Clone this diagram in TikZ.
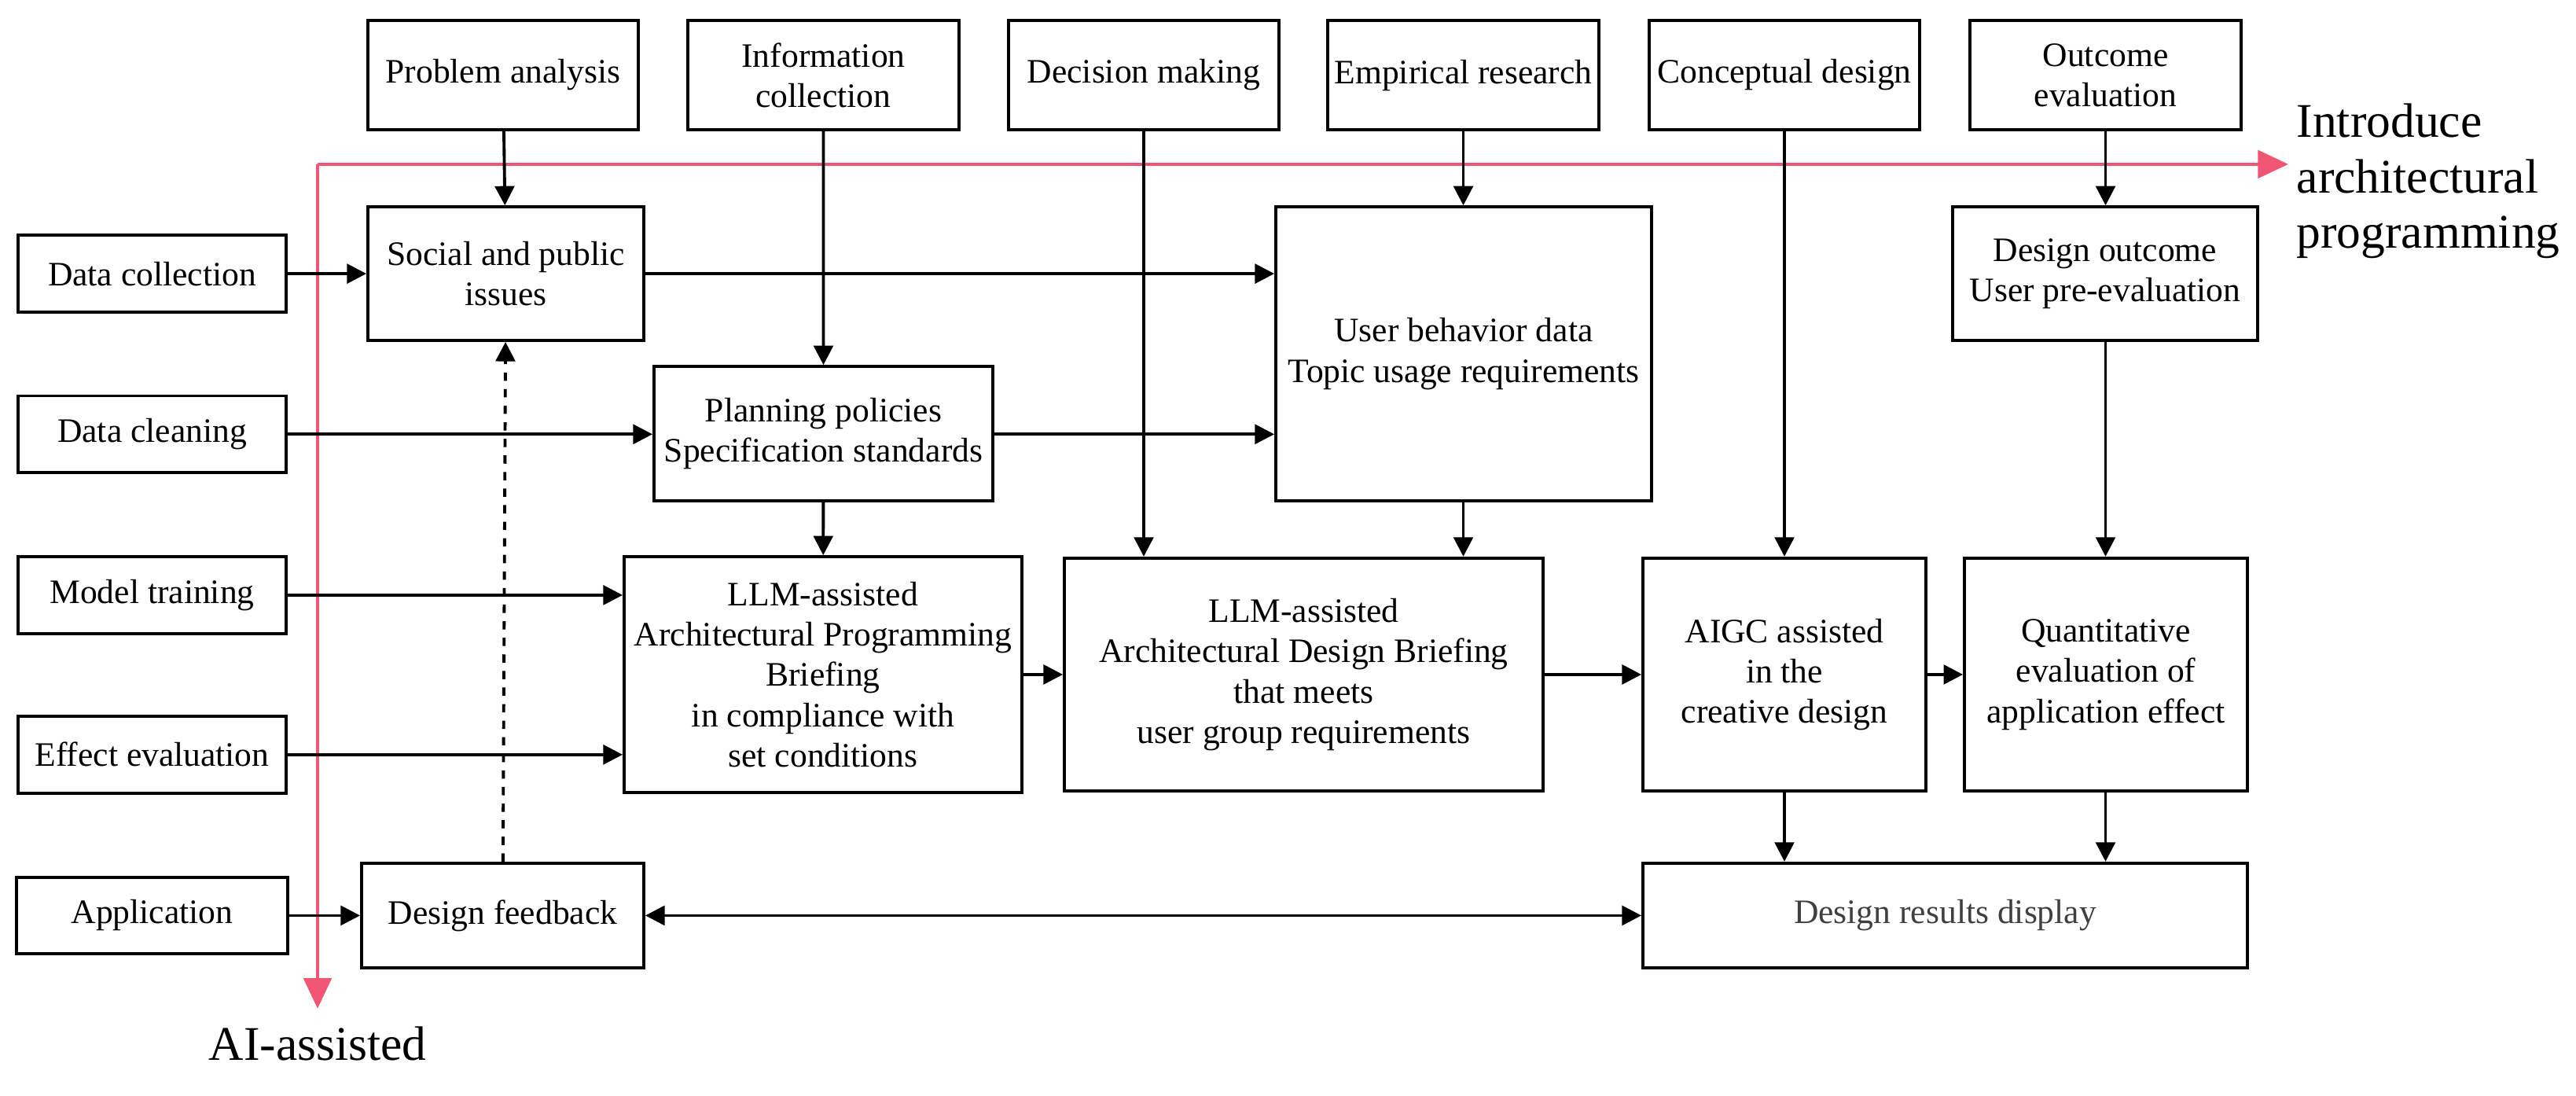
\documentclass[tikz,border=0pt]{standalone}
\usepackage{fontspec}
\setmainfont{Liberation Serif}
\usetikzlibrary{arrows.meta}
\definecolor{flowred}{RGB}{240,85,115}
\tikzset{
  box/.style={draw, line width=1.1pt, align=center, inner sep=2pt, font=\fontsize{12.4}{14.6}\selectfont},
  flow/.style={line width=1.1pt, -{Triangle[length=7pt,width=7pt]}},
  bigtxt/.style={font=\fontsize{17.5}{20}\selectfont, inner sep=0pt}
}
\newcommand{\yf}{0.849}
\newcommand{\bx}[6]{\node[box, minimum width=#3cm-#2cm, minimum height=\yf*(#5cm-#4cm)] (#1) at ({(#2+#3)/2},{-\yf*(#4+#5)/2}) {#6};}
\begin{document}
\begin{tikzpicture}
\useasboundingbox (0,0) rectangle (32.77,-13.93);
% top row
\bx{prob}{4.68}{8.12}{0.31}{1.94}{Problem analysis}
\bx{info}{8.75}{12.20}{0.31}{1.94}{Information\\collection}
\bx{deci}{12.83}{16.27}{0.31}{1.94}{Decision making}
\bx{empi}{16.89}{20.34}{0.31}{1.94}{Empirical research}
\bx{conc}{20.98}{24.42}{0.31}{1.94}{Conceptual design}
\bx{outc}{25.06}{28.51}{0.31}{1.94}{Outcome\\evaluation}
% left column
\bx{dcol}{0.23}{3.64}{3.52}{4.68}{Data collection}
\bx{dcln}{0.23}{3.64}{5.93}{7.08}{Data cleaning}
\bx{mtrn}{0.23}{3.64}{8.34}{9.49}{Model training}
\bx{efev}{0.23}{3.64}{10.73}{11.88}{Effect evaluation}
\bx{appl}{0.21}{3.66}{13.14}{14.29}{Application}
% middle
\bx{soc}{4.68}{8.19}{3.10}{5.10}{Social and public\\issues}
\bx{plan}{8.32}{12.63}{5.49}{7.50}{Planning policies\\Specification standards}
\bx{prog}{7.94}{13.00}{8.34}{11.87}{LLM-assisted\\Architectural Programming\\Briefing\\in compliance with\\set conditions}
\bx{feed}{4.60}{8.19}{12.93}{14.50}{Design feedback}
\bx{user}{16.23}{21.01}{3.10}{7.50}{User behavior data\\Topic usage requirements}
\bx{desb}{13.54}{19.63}{8.36}{11.85}{LLM-assisted\\Architectural Design Briefing\\that meets\\user group requirements}
\bx{aigc}{20.90}{24.50}{8.36}{11.85}{AIGC assisted\\in the\\creative design}
\bx{quan}{24.99}{28.59}{8.36}{11.85}{Quantitative\\evaluation of\\application effect}
\bx{dout}{24.84}{28.72}{3.10}{5.10}{Design outcome\\User pre-evaluation}
\node[box, minimum width=7.69cm, minimum height=\yf*1.57cm, text=black!75] (resu) at (24.745,-\yf*13.715) {Design results display};
% red axes
\coordinate (rc) at (4.04,-\yf*2.46);
\coordinate (rdown) at (4.04,-\yf*15.11);
\coordinate (rright) at (29.11,-\yf*2.46);
\draw[flowred, line width=1.3pt, -{Triangle[length=11pt,width=10pt]}] (rc) -- (rdown);
\draw[flowred, line width=1.3pt, -{Triangle[length=11pt,width=10pt]}] (rc) -- (rright);
\node[bigtxt] (aiax) at (4.04,-\yf*15.64) {AI-assisted};
\node[bigtxt, anchor=north west, align=left] (itax) at (29.21,-\yf*1.55) {Introduce\\architectural\\programming};
% vertical flows
\draw[flow] (prob) -- (soc);
\draw[flow] (info) -- (plan);
\draw[flow] (plan) -- (prog);
\draw[flow] (deci.south) -- (deci.south |- desb.north);
\draw[flow] (empi.south) -- (empi.south |- user.north);
\draw[flow] (empi.south |- user.south) -- (empi.south |- desb.north);
\draw[flow] (conc) -- (aigc);
\draw[flow] (outc.south) -- (outc.south |- dout.north);
\draw[flow] (outc.south |- dout.south) -- (outc.south |- quan.north);
\draw[flow] (conc.south |- aigc.south) -- (conc.south |- resu.north);
\draw[flow] (outc.south |- quan.south) -- (outc.south |- resu.north);
\draw[line width=1.1pt, dashed, -{Triangle[length=7pt,width=7pt]}] (feed) -- (soc);
% horizontal flows
\draw[flow] (dcol) -- (soc.west |- dcol);
\draw[flow] (soc.east |- dcol) -- (user.west |- dcol);
\draw[flow] (dcln) -- (plan.west |- dcln);
\draw[flow] (plan.east |- dcln) -- (user.west |- dcln);
\draw[flow] (mtrn) -- (prog.west |- mtrn);
\draw[flow] (efev) -- (prog.west |- efev);
\draw[flow] (prog) -- (prog.east -| desb.west);
\draw[flow] (desb) -- (desb.east -| aigc.west);
\draw[flow] (aigc) -- (quan);
\draw[flow] (appl) -- (feed.west |- appl);
\draw[line width=1.1pt, {Triangle[length=7pt,width=7pt]}-{Triangle[length=7pt,width=7pt]}] (feed.east |- appl) -- (resu.west |- appl);
\end{tikzpicture}
\end{document}
